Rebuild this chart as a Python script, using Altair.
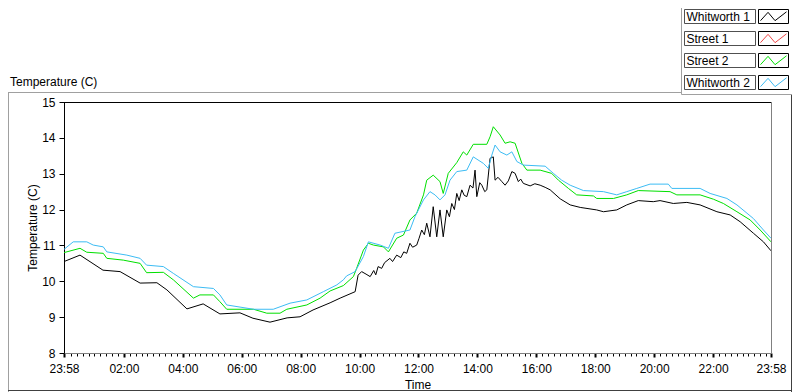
import altair as alt
import pandas as pd

# ---------------- data (clock hours since midnight; run starts 23:58 the day before) ----------------
series_names = ["Whitworth 1", "Street 1", "Street 2", "Whitworth 2"]
series_colors = ["#000000", "#f04848", "#00e000", "#3cbcf4"]

START = -2 / 60
END = 24 - 2 / 60

w1_time = [START, 0.51, 1.29, 1.87, 2.55, 3.12, 3.46, 4.14, 4.69, 5.26, 5.94, 6.38, 6.96, 7.54, 7.98,
           8.42, 9.00, 9.34, 9.85, 9.95, 10.07, 10.22, 10.36, 10.48, 10.55, 10.63, 10.75, 10.85, 11.03,
           11.12, 11.26, 11.40, 11.50, 11.60, 11.71, 11.80, 11.94, 12.02, 12.11, 12.20, 12.28, 12.39,
           12.50, 12.62, 12.73, 12.84, 12.96, 13.05, 13.13, 13.22, 13.30, 13.38, 13.47, 13.55, 13.64,
           13.75, 13.85, 13.92, 13.98, 14.08, 14.15, 14.25, 14.32, 14.43, 14.54, 14.60, 14.70, 14.83,
           14.94, 15.05, 15.17, 15.28, 15.39, 15.47, 15.56, 15.79, 15.95, 16.13, 16.30, 16.47, 16.81,
           17.15, 17.49, 18.05, 18.28, 18.73, 19.07, 19.46, 19.97, 20.20, 20.65, 21.11, 21.56, 22.13,
           22.58, 22.92, 23.37, 23.71, END]
w1_temp = [10.55, 10.73, 10.31, 10.27, 9.95, 9.96, 9.76, 9.23, 9.37, 9.09, 9.12, 8.97, 8.86, 8.98, 9.01,
           9.20, 9.40, 9.53, 9.71, 10.17, 10.27, 10.20, 10.13, 10.30, 10.18, 10.41, 10.36, 10.52, 10.64,
           10.55, 10.73, 10.66, 10.82, 10.78, 11.06, 10.95, 11.01, 11.20, 11.43, 11.30, 11.62, 11.24,
           12.08, 11.24, 11.99, 11.24, 11.99, 11.80, 12.17, 12.00, 12.45, 12.25, 12.55, 12.40, 12.36,
           12.68, 12.60, 13.10, 12.36, 12.75, 12.68, 12.50, 12.55, 13.43, 13.47, 12.82, 12.90, 12.78,
           12.68, 12.80, 13.06, 13.01, 12.78, 12.85, 12.73, 12.66, 12.72, 12.68, 12.62, 12.55, 12.30,
           12.13, 12.06, 11.99, 11.94, 11.99, 12.13, 12.25, 12.22, 12.25, 12.17, 12.20, 12.13, 11.94,
           11.85, 11.66, 11.34, 11.10, 10.85]

s1_time = []
s1_temp = []

s2_time = [START, 0.51, 0.74, 1.30, 1.42, 1.98, 2.55, 2.77, 3.34, 3.68, 4.36, 4.58, 5.04, 5.26, 5.49,
           6.40, 6.85, 7.30, 7.53, 8.21, 8.66, 9.00, 9.45, 9.79, 9.90, 10.13, 10.30, 10.47, 10.81, 10.98,
           11.26, 11.49, 11.71, 11.94, 12.17, 12.28, 12.50, 12.73, 12.84, 13.01, 13.30, 13.52, 13.64,
           13.86, 14.32, 14.43, 14.54, 14.77, 14.94, 15.11, 15.28, 15.51, 15.68, 16.13, 16.52, 16.75,
           17.09, 17.37, 17.94, 18.05, 18.62, 19.07, 19.46, 20.54, 20.77, 21.56, 22.01, 22.35, 22.81,
           23.26, 23.60, END]
s2_temp = [10.80, 10.92, 10.81, 10.78, 10.64, 10.59, 10.50, 10.24, 10.25, 10.04, 9.53, 9.62, 9.62, 9.43,
           9.22, 9.22, 9.11, 9.11, 9.22, 9.34, 9.53, 9.73, 9.88, 10.13, 10.36, 10.87, 11.06, 11.01, 10.96,
           10.82, 11.20, 11.29, 11.71, 11.90, 12.41, 12.82, 12.96, 12.78, 12.45, 13.01, 13.31, 13.61,
           13.52, 13.82, 13.82, 14.03, 14.31, 14.08, 13.85, 13.89, 13.85, 13.29, 13.10, 13.10, 13.01,
           12.82, 12.59, 12.41, 12.38, 12.31, 12.31, 12.41, 12.53, 12.50, 12.41, 12.41, 12.29, 12.17,
           11.94, 11.71, 11.43, 11.10]

w2_time = [START, 0.28, 0.74, 0.96, 1.30, 1.42, 2.10, 2.55, 2.77, 3.34, 3.68, 4.36, 5.04, 5.26, 5.49,
           6.40, 7.07, 7.64, 8.21, 8.77, 9.23, 9.45, 9.56, 9.85, 10.13, 10.30, 10.70, 10.98, 11.20, 11.71,
           11.88, 12.17, 12.39, 12.56, 12.73, 12.90, 13.07, 13.30, 13.64, 13.86, 14.20, 14.37, 14.49,
           14.60, 14.77, 15.00, 15.17, 15.34, 15.56, 16.30, 16.58, 16.86, 17.15, 17.60, 18.28, 18.73,
           19.07, 19.41, 19.86, 20.48, 20.60, 21.56, 21.90, 22.47, 22.81, 23.37, 23.71, END]
w2_temp = [10.89, 11.10, 11.10, 11.01, 10.96, 10.82, 10.73, 10.64, 10.45, 10.41, 10.22, 9.85, 9.80, 9.62,
           9.34, 9.22, 9.22, 9.39, 9.48, 9.71, 9.90, 10.04, 10.15, 10.27, 10.69, 11.10, 11.01, 10.92,
           11.34, 11.43, 11.80, 12.27, 12.50, 12.41, 12.27, 12.41, 12.82, 13.06, 13.10, 13.47, 13.29,
           13.15, 13.52, 13.80, 13.61, 13.52, 13.61, 13.34, 13.24, 13.21, 13.01, 12.82, 12.68, 12.53,
           12.50, 12.41, 12.50, 12.59, 12.71, 12.71, 12.59, 12.59, 12.45, 12.31, 12.13, 11.75, 11.43,
           11.20]

y_ticks = [8, 9, 10, 11, 12, 13, 14, 15]

# ---------------- build table ----------------
rows = []
for name, ts, vs in [("Whitworth 1", w1_time, w1_temp), ("Street 1", s1_time, s1_temp),
                     ("Street 2", s2_time, s2_temp), ("Whitworth 2", w2_time, w2_temp)]:
    for t, v in zip(ts, vs):
        rows.append({"series": name, "hour": t, "temp": v})
df = pd.DataFrame(rows)

FONT = "Liberation Sans"
W, H = 707, 251

# x-axis tick positions: minor every 12 min, majors every 2 h, plus both ends (23:58)
x_tick_values = [START] + [round(0.2 * i, 1) for i in range(1, 120)] + [END]
is_major = "(datum.value < 0 || datum.value > 23.9 || abs(datum.value / 2 - round(datum.value / 2)) < 0.001)"
label_expr = ("datum.value < 0 || datum.value > 23.9 ? '23:58' : "
              "(abs(datum.value / 2 - round(datum.value / 2)) < 0.001 ? "
              "(datum.value < 10 ? '0' : '') + round(datum.value) + ':00' : '')")

x_enc = alt.X("hour:Q",
              scale=alt.Scale(domain=[START, END], nice=False, zero=False),
              axis=alt.Axis(values=x_tick_values, labelExpr=label_expr, labelOverlap=False,
                            labelFlush=False, grid=False, domainColor="#808080", domainWidth=1,
                            tickColor="#000000",
                            tickSize={"condition": {"test": is_major, "value": 4}, "value": 3},
                            tickWidth={"condition": {"test": is_major, "value": 2}, "value": 1},
                            labelPadding=6, labelFontSize=12, labelColor="#000000",
                            labelFont=FONT, title="Time", titleFont=FONT, titleFontSize=12,
                            titleFontWeight="normal", titleColor="#000000",
                            titleX=353.5, titleY=31, titleBaseline="middle", titleAlign="center"))
y_enc = alt.Y("temp:Q",
              scale=alt.Scale(domain=[8, 15], nice=False, zero=False),
              axis=alt.Axis(values=y_ticks, grid=False, domainColor="#000000", tickColor="#000000",
                            tickSize=5, labelPadding=4, labelFontSize=12, labelColor="#000000",
                            labelFont=FONT, title="Temperature (C)", titleFont=FONT,
                            titleFontSize=12, titleFontWeight="normal", titleColor="#000000",
                            titleX=-31.5, titleY=125.5, titleAngle=270, titleAlign="center",
                            titleBaseline="middle"))

base = alt.Chart(df).encode(x=x_enc, y=y_enc)
layers = []
for name, color in zip(series_names, series_colors):
    layers.append(base.transform_filter(alt.datum.series == name)
                  .mark_line(color=color, strokeWidth=1, clip=True))

one = pd.DataFrame({"k": [0]})


def hrule(x1, x2, y, color):
    return alt.Chart(one).mark_rule(color=color, strokeWidth=1).encode(
        x=alt.value(x1), x2=alt.value(x2), y=alt.value(y))


def vrule(x, y1, y2, color):
    return alt.Chart(one).mark_rule(color=color, strokeWidth=1).encode(
        x=alt.value(x), y=alt.value(y1), y2=alt.value(y2))


GRAY = "#a0a0a0"
DARK = "#404040"
deco = [
    hrule(0, W, 0.5, "#000000"),            # plot top border
    vrule(W + 0.5, 0, H, "#808080"),        # plot right border
    hrule(-56, 617.5, -9.5, GRAY),          # outer frame top
    vrule(-55.5, -9.5, 290, GRAY),          # outer frame left
    hrule(-56, 728, 288.5, DARK),           # outer frame bottom
    vrule(727.5, -8, 290, DARK),            # outer frame right
    vrule(617.5, -94, -7.5, GRAY),          # legend panel left
    hrule(617.5, 728, -7.5, GRAY),          # legend panel bottom
]

title = alt.Chart(pd.DataFrame({"t": ["Temperature (C)"]})).mark_text(
    font=FONT, fontSize=12, align="left", baseline="middle", color="#000000").encode(
    text="t:N", x=alt.value(-54), y=alt.value(-20))

zigzag = "M -1 0.32 L -0.42 -0.32 L 0.12 0.32 L 1 -0.36"
legend_layers = []
for i, (name, color) in enumerate(zip(series_names, series_colors)):
    top = -93 + 22 * i
    d = pd.DataFrame({"name": [name]})
    legend_layers.append(alt.Chart(d).mark_rect(fill="#ffffff", stroke="#505050", strokeWidth=1).encode(
        x=alt.value(620.5), x2=alt.value(691.5), y=alt.value(top + 0.5), y2=alt.value(top + 14.5)))
    legend_layers.append(alt.Chart(d).mark_text(font=FONT, fontSize=12, align="left", baseline="middle",
                                                color="#000000").encode(
        text="name:N", x=alt.value(622.5), y=alt.value(top + 7.5)))
    legend_layers.append(alt.Chart(d).mark_rect(fill="#ffffff", stroke="#000000", strokeWidth=1).encode(
        x=alt.value(694.5), x2=alt.value(724.5), y=alt.value(top + 0.5), y2=alt.value(top + 14.5)))
    legend_layers.append(alt.Chart(d).mark_point(shape=zigzag, filled=False, color=color, opacity=1,
                                                 strokeWidth=1, size=676).encode(
        x=alt.value(709.5), y=alt.value(top + 7.5)))

chart = alt.layer(*layers, *deco, title, *legend_layers).properties(
    width=W, height=H,
    padding={"left": 56, "top": 94, "right": 21, "bottom": 39},
    autosize=alt.AutoSizeParams(type="none"),
    background="#ffffff",
).configure_view(stroke="transparent").configure(font=FONT)

chart.save("out.html", embed_options={"renderer": "svg", "actions": False})
